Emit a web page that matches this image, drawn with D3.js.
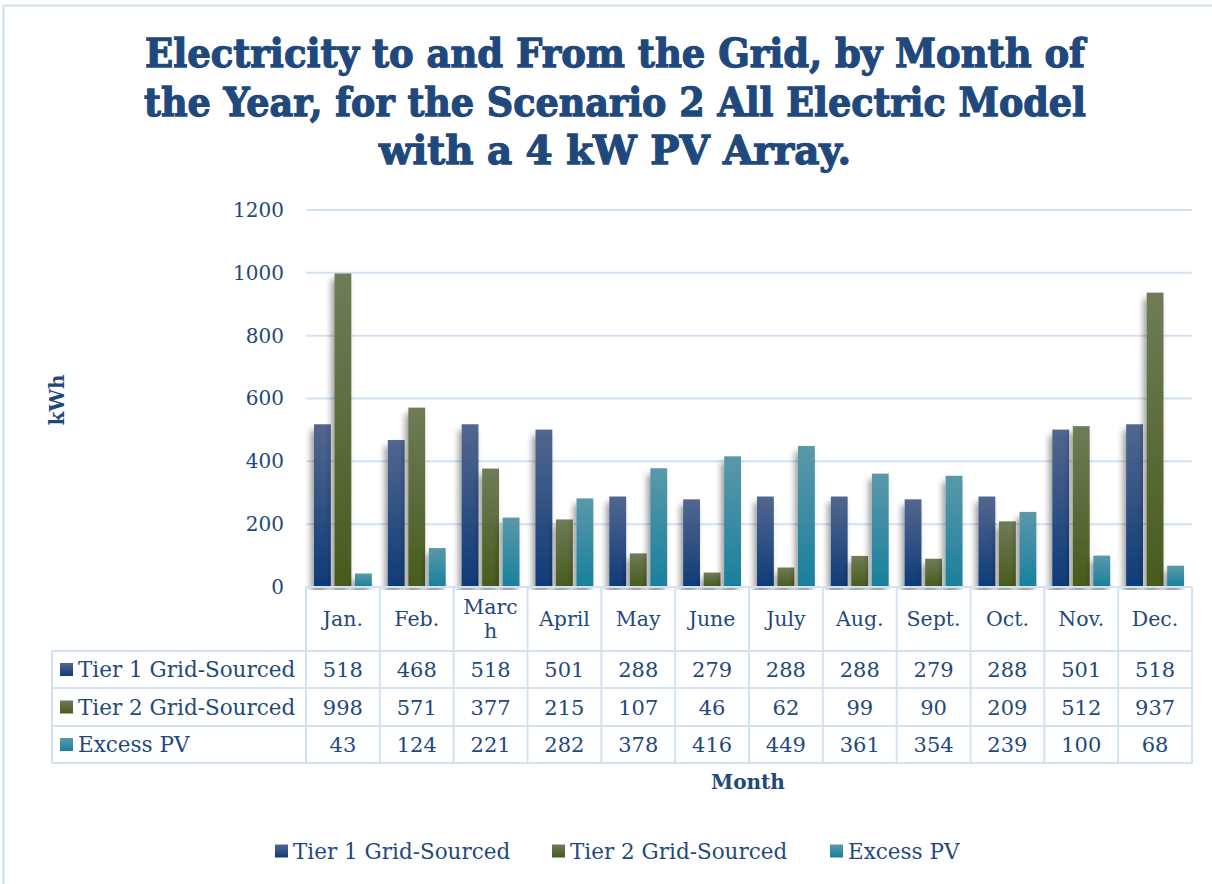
<!DOCTYPE html>
<html>
<head>
<meta charset="utf-8">
<script src="https://cdnjs.cloudflare.com/ajax/libs/d3/7.8.5/d3.min.js"></script>
<style>
  body { margin: 0; background: #fff; }
  text { font-family: "DejaVu Serif", serif; fill: #1f497d; }
</style>
</head>
<body>
<script>
const months = ["Jan.", "Feb.", "March", "April", "May", "June", "July", "Aug.", "Sept.", "Oct.", "Nov.", "Dec."];
const seriesNames = ["Tier 1 Grid-Sourced", "Tier 2 Grid-Sourced", "Excess PV"];
const tier1 = [518, 468, 518, 501, 288, 279, 288, 288, 279, 288, 501, 518];
const tier2 = [998, 571, 377, 215, 107, 46, 62, 99, 90, 209, 512, 937];
const excessPV = [43, 124, 221, 282, 378, 416, 449, 361, 354, 239, 100, 68];
const yTicks = [0, 200, 400, 600, 800, 1000, 1200];
const titleLines = [
  "Electricity to and From the Grid, by Month of",
  "the Year, for the Scenario 2 All Electric Model",
  "with a 4 kW PV Array."
];

const seriesValues = [tier1, tier2, excessPV];
const colors = [
  { top: "#52678f", bottom: "#0e3b78" },
  { top: "#6f7c58", bottom: "#485b1c" },
  { top: "#5b98aa", bottom: "#18809c" }
];

const W = 1212, H = 884;
const svg = d3.select("body").append("svg")
  .attr("width", W)
  .attr("height", H);

// gradients + shadow
const defs = svg.append("defs");
colors.forEach((c, i) => {
  const g = defs.append("linearGradient").attr("id", "grad" + i)
    .attr("x1", 0).attr("y1", 0).attr("x2", 0).attr("y2", 1);
  g.append("stop").attr("offset", "0%").attr("stop-color", c.top);
  g.append("stop").attr("offset", "100%").attr("stop-color", c.bottom);
});
const f = defs.append("filter").attr("id", "shadow")
  .attr("x", "-50%").attr("y", "-10%").attr("width", "200%").attr("height", "130%");
f.append("feDropShadow").attr("dx", -3).attr("dy", 6).attr("stdDeviation", 3)
  .attr("flood-color", "#000").attr("flood-opacity", 0.4);

// chart border
svg.append("rect")
  .attr("x", 3.5).attr("y", 5.5).attr("width", W + 20).attr("height", H + 20)
  .attr("fill", "none").attr("stroke", "#cfdff2").attr("stroke-width", 2);

// title
svg.append("g").selectAll("text")
  .data(titleLines)
  .enter().append("text")
  .attr("x", 615)
  .attr("y", (d, i) => 67 + i * 48.5)
  .attr("text-anchor", "middle")
  .attr("font-size", 40)
  .attr("font-weight", "bold")
  .attr("stroke", "#1f497d")
  .attr("stroke-width", 1.3)
  .attr("textLength", (d, i) => [940, 942, 472][i])
  .attr("lengthAdjust", "spacingAndGlyphs")
  .text(d => d);

// scales
const plotLeft = 306, plotRight = 1192, plotTop = 210, plotBottom = 587;
const x0 = d3.scaleBand().domain(months).range([plotLeft, plotRight]);
const x1 = d3.scaleBand().domain(seriesNames).range([8, x0.bandwidth() - 8]).paddingInner(0.18);
const y = d3.scaleLinear().domain([0, 1200]).range([plotBottom, plotTop]);

// gridlines
svg.append("g").selectAll("line")
  .data(yTicks)
  .enter().append("line")
  .attr("x1", plotLeft).attr("x2", plotRight)
  .attr("y1", d => y(d)).attr("y2", d => y(d))
  .attr("stroke", "#d3e2f3").attr("stroke-width", 2);

// y axis labels
const yAxis = d3.axisLeft(y).tickValues(yTicks).tickSize(0).tickPadding(0).tickFormat(d3.format("d"));
const ya = svg.append("g").attr("transform", "translate(284,0)").call(yAxis);
ya.select(".domain").remove();
ya.selectAll("text")
  .attr("font-family", "DejaVu Serif, serif")
  .attr("font-size", 20)
  .attr("fill", "#1f497d");

svg.append("text")
  .attr("transform", "translate(64,400) rotate(-90)")
  .attr("text-anchor", "middle")
  .attr("font-size", 20)
  .attr("font-weight", "bold")
  .text("kWh");

// bars
const barData = [];
months.forEach((m, mi) => {
  seriesNames.forEach((s, si) => {
    barData.push({ month: m, series: s, si: si, value: seriesValues[si][mi] });
  });
});
svg.append("g").selectAll("rect")
  .data(barData)
  .enter().append("rect")
  .attr("x", d => x0(d.month) + x1(d.series))
  .attr("y", d => y(d.value))
  .attr("width", x1.bandwidth())
  .attr("height", d => y(0) - y(d.value))
  .attr("fill", d => "url(#grad" + d.si + ")")
  .attr("filter", "url(#shadow)");

// data table
const rowTops = [651, 688, 726, 763];
const tableLeft = 52;
const tbl = svg.append("g");
// white area to cover shadows below axis
tbl.append("rect").attr("x", plotLeft).attr("y", plotBottom + 3)
  .attr("width", plotRight - plotLeft).attr("height", rowTops[3] - plotBottom)
  .attr("fill", "#fff");
tbl.append("rect").attr("x", tableLeft).attr("y", rowTops[0])
  .attr("width", plotLeft - tableLeft).attr("height", rowTops[3] - rowTops[0])
  .attr("fill", "#fff");

const gridColor = "#d3e2f3";
// horizontal lines
tbl.append("line").attr("x1", plotLeft).attr("x2", plotRight)
  .attr("y1", plotBottom).attr("y2", plotBottom)
  .attr("stroke", gridColor).attr("stroke-width", 2);
tbl.selectAll(".hl").data(rowTops).enter().append("line")
  .attr("x1", tableLeft).attr("x2", plotRight)
  .attr("y1", d => d).attr("y2", d => d)
  .attr("stroke", gridColor).attr("stroke-width", 2);
// vertical lines
const colEdges = months.map(m => x0(m)).concat([plotRight]);
tbl.selectAll(".vl").data(colEdges).enter().append("line")
  .attr("x1", d => d).attr("x2", d => d)
  .attr("y1", plotBottom).attr("y2", rowTops[3])
  .attr("stroke", gridColor).attr("stroke-width", 2);
tbl.append("line").attr("x1", tableLeft).attr("x2", tableLeft)
  .attr("y1", rowTops[0]).attr("y2", rowTops[3])
  .attr("stroke", gridColor).attr("stroke-width", 2);

// month headers (March wraps in the original)
const headerLines = months.map(m => m === "March" ? ["Marc", "h"] : [m]);
tbl.selectAll(".mh").data(months).enter().append("text")
  .attr("x", d => x0(d) + x0.bandwidth() / 2)
  .attr("text-anchor", "middle")
  .attr("font-size", 20.5)
  .each(function (d, i) {
    const lines = headerLines[i];
    const t = d3.select(this);
    const mid = (plotBottom + rowTops[0]) / 2;
    lines.forEach((l, li) => {
      t.append("tspan")
        .attr("x", x0(d) + x0.bandwidth() / 2)
        .attr("y", mid + 7 + (li - (lines.length - 1) / 2) * 24)
        .text(l);
    });
  });

// rows
seriesNames.forEach((s, si) => {
  const cy = (rowTops[si] + rowTops[si + 1]) / 2;
  tbl.append("rect")
    .attr("x", 60).attr("y", cy - 6.5).attr("width", 13).attr("height", 13)
    .attr("fill", "url(#grad" + si + ")");
  tbl.append("text")
    .attr("x", 78).attr("y", cy + 7.5)
    .attr("font-size", 21.5)
    .text(s);
  tbl.selectAll(".v" + si).data(seriesValues[si]).enter().append("text")
    .attr("x", (d, i) => x0(months[i]) + x0.bandwidth() / 2)
    .attr("y", cy + 7.5)
    .attr("text-anchor", "middle")
    .attr("font-size", 21)
    .text(d => d);
});

// x axis title
svg.append("text")
  .attr("x", 748).attr("y", 789)
  .attr("text-anchor", "middle")
  .attr("font-size", 20)
  .attr("font-weight", "bold")
  .text("Month");

// legend
const legendX = [275, 552, 830];
const leg = svg.append("g").selectAll("g")
  .data(seriesNames)
  .enter().append("g")
  .attr("transform", (d, i) => "translate(" + legendX[i] + ",851)");
leg.append("rect").attr("x", 0).attr("y", -6.5).attr("width", 13).attr("height", 13)
  .attr("fill", (d, i) => "url(#grad" + i + ")");
leg.append("text").attr("x", 18).attr("y", 7.5)
  .attr("font-size", 21.5)
  .text(d => d);
</script>
</body>
</html>
